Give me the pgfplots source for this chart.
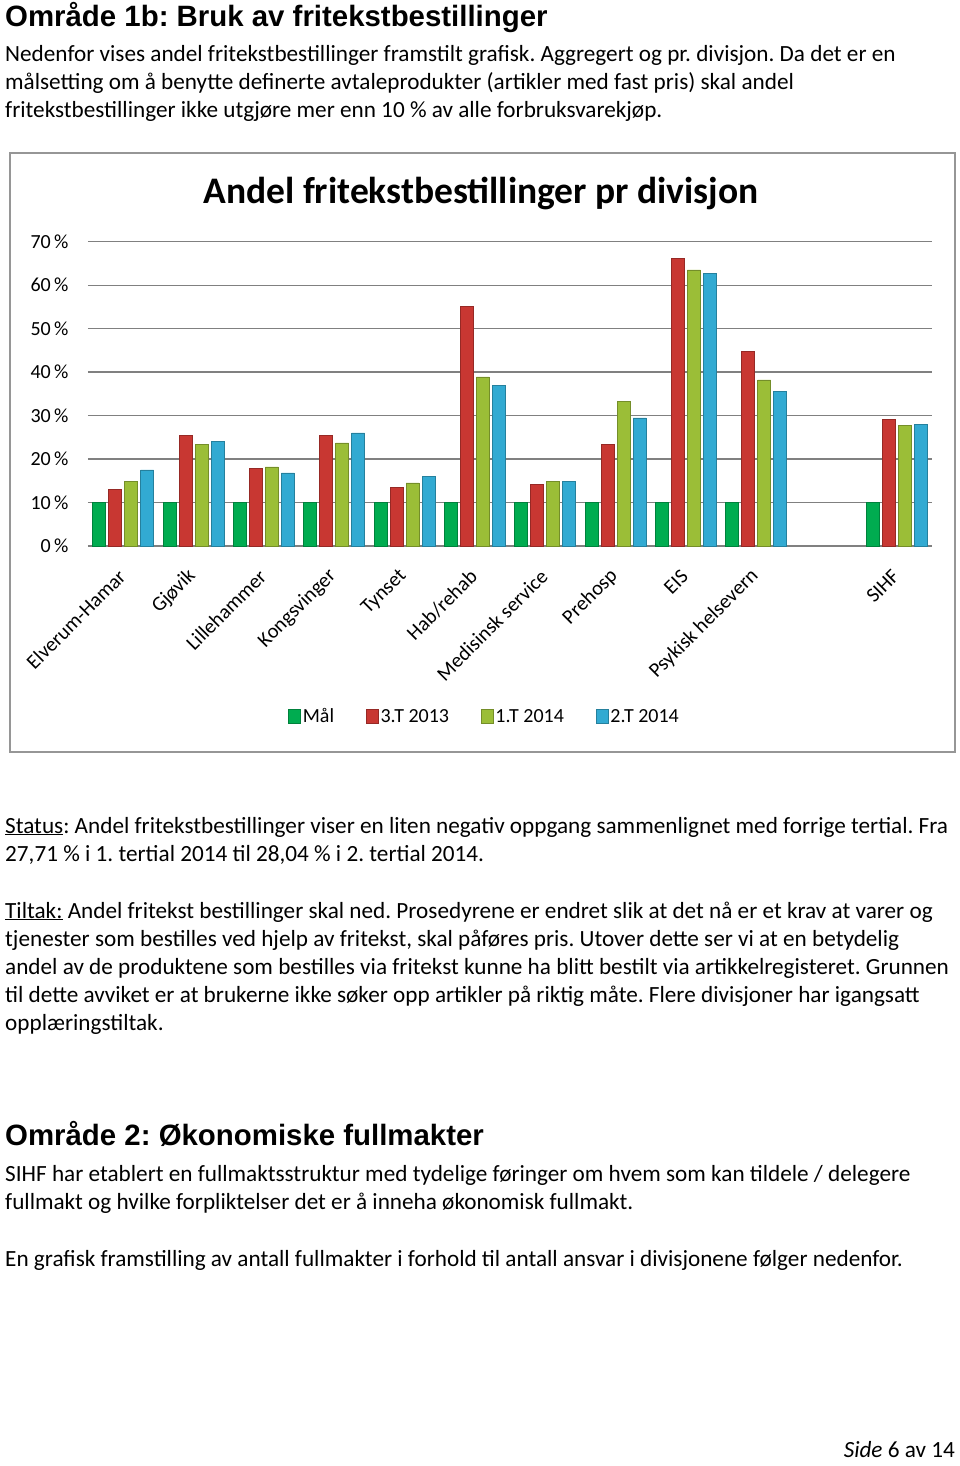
\documentclass[border=0pt]{standalone}
\usepackage{pgfplots}
\pgfplotsset{compat=1.18}
\usepackage{fontspec}
\setmainfont{Carlito}
\newfontfamily\arial{Liberation Sans}
\frenchspacing

\definecolor{cgreen}{RGB}{0,172,80}
\definecolor{cred}{RGB}{200,55,50}
\definecolor{clime}{RGB}{155,190,55}
\definecolor{cblue}{RGB}{50,170,210}
\definecolor{cgrid}{RGB}{128,128,128}

\pgfplotstableread{
x mal t2013 t1 t2
0  10 13.1 14.8 17.5
1  10 25.5 23.4 24.1
2  10 17.8 18.2 16.8
3  10 25.5 23.7 26.0
4  10 13.5 14.5 16.0
5  10 55.2 38.9 36.9
6  10 14.2 14.9 14.9
7  10 23.4 33.2 29.5
8  10 66.1 63.5 62.7
9  10 44.8 38.2 35.6
11 10 29.2 27.7 28.0
}\datatable

\newcommand{\bodyfont}{\fontsize{23.2}{28}\selectfont}
\newcommand{\headfont}{\arial\bfseries\fontsize{29.4}{34}\selectfont}

\begin{document}
\begin{tikzpicture}
\path[use as bounding box, fill=white] (0pt,0pt) rectangle (960pt,-1466pt);

% Heading 1 and intro
\node[anchor=base west, inner sep=0pt, font=\headfont] at (5pt,-27pt) {Område 1b: Bruk av fritekstbestillinger};
\node[anchor=base west, inner sep=0pt, font=\bodyfont] at (5pt,-62pt) {Nedenfor vises andel fritekstbestillinger framstilt grafisk. Aggregert og pr. divisjon. Da det er en};
\node[anchor=base west, inner sep=0pt, font=\bodyfont] at (5pt,-90pt) {målsetting om å benytte definerte avtaleprodukter (artikler med fast pris) skal andel};
\node[anchor=base west, inner sep=0pt, font=\bodyfont] at (5pt,-118pt) {fritekstbestillinger ikke utgjøre mer enn 10 \% av alle forbruksvarekjøp.};

% Chart frame
\draw[line width=1.5pt, draw={rgb,255:red,150;green,150;blue,150}] (10pt,-153pt) rectangle (955pt,-752pt);
\node[font=\bfseries\fontsize{37.5}{42}\selectfont, inner sep=0pt, anchor=base] at (481pt,-204pt) {Andel fritekstbestillinger pr divisjon};

\begin{axis}[
  at={(88pt,-546pt)}, anchor=south west,
  width=844pt, height=304.3pt, scale only axis,
  xmin=-0.5, xmax=11.5, ymin=0, ymax=70,
  enlargelimits=false,
  ybar=3pt, bar width=13pt,
  axis line style={draw=none},
  major tick length=0pt,
  ymajorgrids,
  grid style={draw=cgrid, line width=1.3pt},
  ytick={0,10,...,70},
  yticklabel={\pgfmathprintnumber{\tick}\,\%},
  yticklabel style={font=\fontsize{20}{22}\selectfont, /pgf/number format/assume math mode=true, xshift=-16pt},
  xtick={0,1,2,3,4,5,6,7,8,9,11},
  xticklabels={Elverum-Hamar,Gjøvik,Lillehammer,Kongsvinger,Tynset,Hab/rehab,Medisinsk service,Prehosp,EIS,Psykisk helsevern,SIHF},
  xticklabel style={xshift=-1pt, yshift=-27pt, rotate=45, anchor=east, font=\fontsize{20.5}{22}\selectfont, inner sep=0pt},
  legend style={at={(0.47,-0.56)}, anchor=center, draw=none, fill=none, legend columns=4,
    font=\fontsize{20}{22}\selectfont,
    /tikz/every even column/.append style={column sep=30pt}},
  legend image code/.code={\path[#1] (0pt,-7pt) rectangle (12pt,7pt);},
]
\addplot[draw=cgreen!75!black, fill=cgreen] table[x=x,y=mal] {\datatable};
\addplot[draw=cred!75!black, fill=cred] table[x=x,y=t2013] {\datatable};
\addplot[draw=clime!75!black, fill=clime] table[x=x,y=t1] {\datatable};
\addplot[draw=cblue!75!black, fill=cblue] table[x=x,y=t2] {\datatable};
\legend{Mål,3.T 2013,1.T 2014,2.T 2014}
\end{axis}

% Status and Tiltak
\node[anchor=base west, inner sep=0pt, font=\bodyfont] at (5pt,-833pt) {\underline{Status}: Andel fritekstbestillinger viser en liten negativ oppgang sammenlignet med forrige tertial. Fra};
\node[anchor=base west, inner sep=0pt, font=\bodyfont] at (5pt,-861pt) {27,71 \% i 1. tertial 2014 til 28,04 \% i 2. tertial 2014.};
\node[anchor=base west, inner sep=0pt, font=\bodyfont] at (5pt,-918pt) {\underline{Tiltak:} Andel fritekst bestillinger skal ned. Prosedyrene er endret slik at det nå er et krav at varer og};
\node[anchor=base west, inner sep=0pt, font=\bodyfont] at (5pt,-946pt) {tjenester som bestilles ved hjelp av fritekst, skal påføres pris. Utover dette ser vi at en betydelig};
\node[anchor=base west, inner sep=0pt, font=\bodyfont] at (5pt,-974pt) {andel av de produktene som bestilles via fritekst kunne ha blitt bestilt via artikkelregisteret. Grunnen};
\node[anchor=base west, inner sep=0pt, font=\bodyfont] at (5pt,-1002pt) {til dette avviket er at brukerne ikke søker opp artikler på riktig måte. Flere divisjoner har igangsatt};
\node[anchor=base west, inner sep=0pt, font=\bodyfont] at (5pt,-1030pt) {opplæringstiltak.};

% Heading 2
\node[anchor=base west, inner sep=0pt, font=\headfont] at (5pt,-1145pt) {Område 2: Økonomiske fullmakter};
\node[anchor=base west, inner sep=0pt, font=\bodyfont] at (5pt,-1181pt) {SIHF har etablert en fullmaktsstruktur med tydelige føringer om hvem som kan tildele / delegere};
\node[anchor=base west, inner sep=0pt, font=\bodyfont] at (5pt,-1209pt) {fullmakt og hvilke forpliktelser det er å inneha økonomisk fullmakt.};
\node[anchor=base west, inner sep=0pt, font=\bodyfont] at (5pt,-1266pt) {En grafisk framstilling av antall fullmakter i forhold til antall ansvar i divisjonene følger nedenfor.};

% Footer
\node[anchor=base east, inner sep=0pt, font=\bodyfont] at (955pt,-1457pt) {\textit{Side} 6 av 14};
\end{tikzpicture}
\end{document}
